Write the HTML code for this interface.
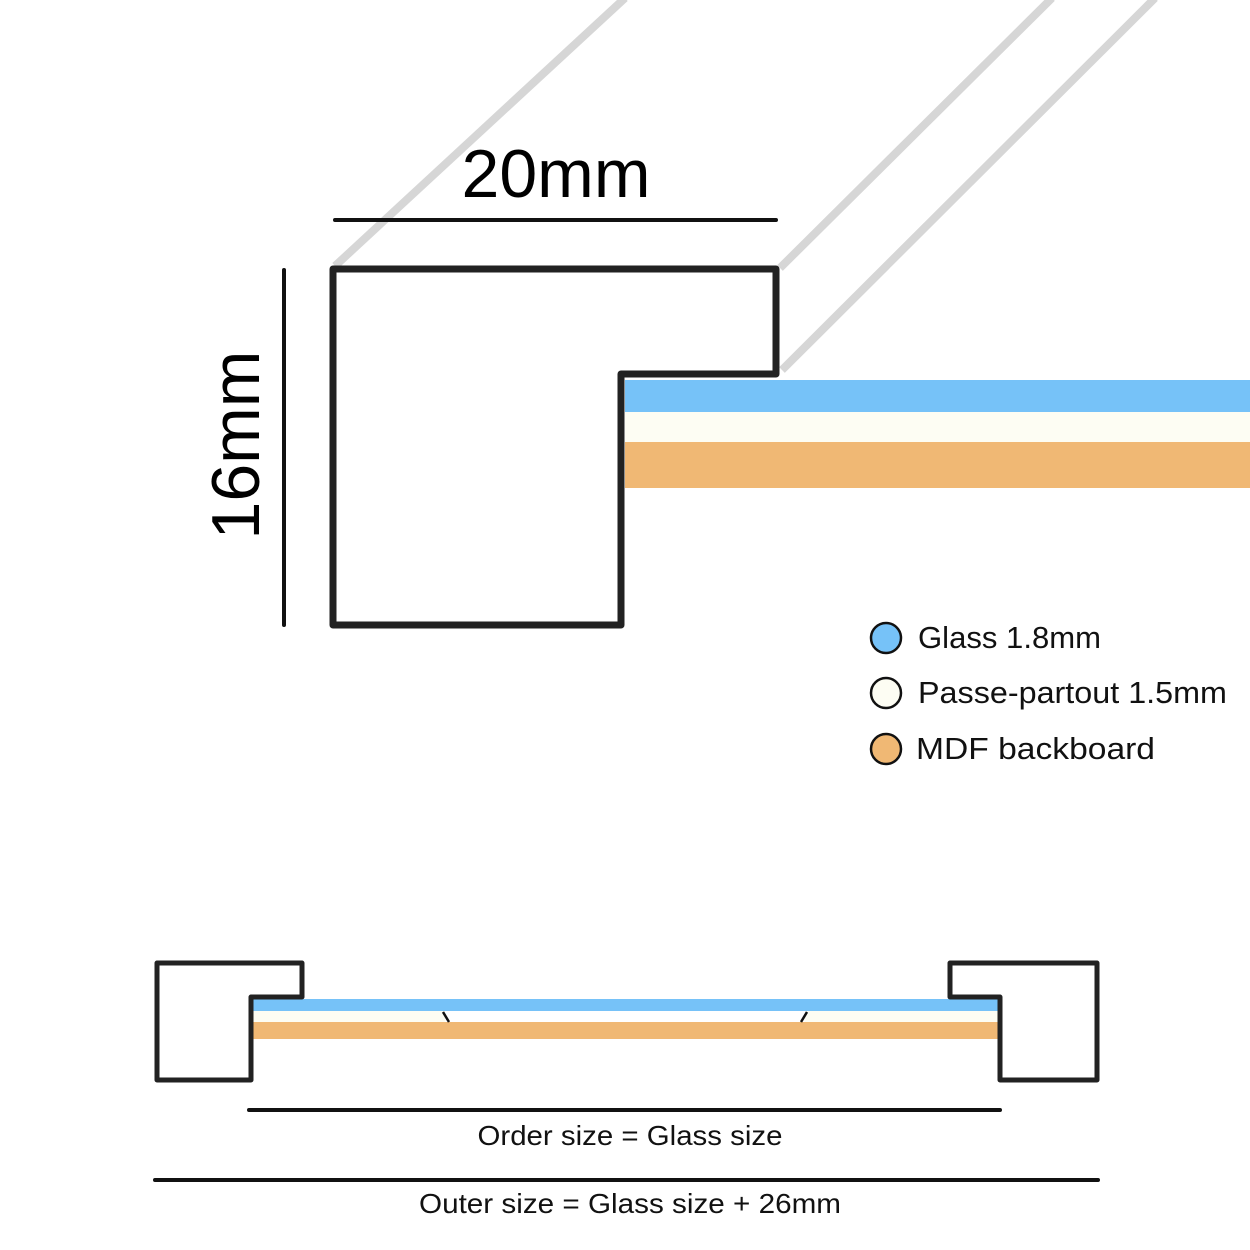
<!DOCTYPE html>
<html><head><meta charset="utf-8"><style>html,body{margin:0;padding:0;background:#fff}svg{display:block}</style></head>
<body>
<svg width="1250" height="1250" viewBox="0 0 1250 1250" xmlns="http://www.w3.org/2000/svg">
<g stroke="#d6d6d6" stroke-width="8" fill="none">
<line x1="335" y1="266" x2="625" y2="-2"/>
<line x1="780" y1="268" x2="1052" y2="-2"/>
<line x1="782" y1="370" x2="1155" y2="-2"/>
</g>
<rect x="625" y="380" width="625" height="32" fill="#76c2f8"/>
<rect x="625" y="412" width="625" height="30" fill="#fdfdf3"/>
<rect x="625" y="442" width="625" height="46" fill="#f0b874"/>
<polygon points="333,269 776,269 776,374 621,374 621,625 333,625" fill="none" stroke="#222" stroke-width="7" stroke-linejoin="round"/>
<line x1="335" y1="220" x2="776" y2="220" stroke="#111" stroke-width="4" stroke-linecap="round"/>
<line x1="284" y1="270" x2="284" y2="625" stroke="#111" stroke-width="4" stroke-linecap="round"/>
<text x="556" y="197" font-family="Liberation Sans, sans-serif" font-size="68" text-anchor="middle" fill="#000">20mm</text>
<text transform="translate(259,445) rotate(-90)" font-family="Liberation Sans, sans-serif" font-size="68" text-anchor="middle" fill="#000">16mm</text>
<g stroke="#111" stroke-width="2.5">
<circle cx="886" cy="638" r="15" fill="#76c2f8"/>
<circle cx="886" cy="693" r="15" fill="#fdfdf3"/>
<circle cx="886" cy="749" r="15" fill="#f0b874"/>
</g>
<g font-family="Liberation Sans, sans-serif" font-size="31" fill="#111">
<text x="918" y="648" textLength="183" lengthAdjust="spacingAndGlyphs">Glass 1.8mm</text>
<text x="918" y="703" textLength="309" lengthAdjust="spacingAndGlyphs">Passe-partout 1.5mm</text>
<text x="916" y="759" textLength="239" lengthAdjust="spacingAndGlyphs">MDF backboard</text>
</g>
<rect x="251" y="999" width="749" height="12" fill="#76c2f8"/>
<rect x="251" y="1011" width="749" height="11" fill="#fdfdf3"/>
<rect x="445" y="1011" width="360" height="11" fill="#fff"/>
<rect x="251" y="1022" width="749" height="17" fill="#f0b874"/>
<line x1="443" y1="1012" x2="449" y2="1022" stroke="#111" stroke-width="2.5"/>
<line x1="807" y1="1012" x2="801" y2="1022" stroke="#111" stroke-width="2.5"/>
<polygon points="157,963 302,963 302,997 251,997 251,1080 157,1080" fill="none" stroke="#222" stroke-width="5" stroke-linejoin="round"/>
<polygon points="1097,963 950,963 950,997 1000,997 1000,1080 1097,1080" fill="none" stroke="#222" stroke-width="5" stroke-linejoin="round"/>
<line x1="249" y1="1110" x2="1000" y2="1110" stroke="#111" stroke-width="4" stroke-linecap="round"/>
<line x1="155" y1="1180" x2="1098" y2="1180" stroke="#111" stroke-width="4" stroke-linecap="round"/>
<g font-family="Liberation Sans, sans-serif" font-size="28" fill="#111" text-anchor="middle">
<text x="630" y="1145" textLength="305" lengthAdjust="spacingAndGlyphs">Order size = Glass size</text>
<text x="630" y="1213" textLength="422" lengthAdjust="spacingAndGlyphs">Outer size = Glass size + 26mm</text>
</g>
</svg>
</body></html>
